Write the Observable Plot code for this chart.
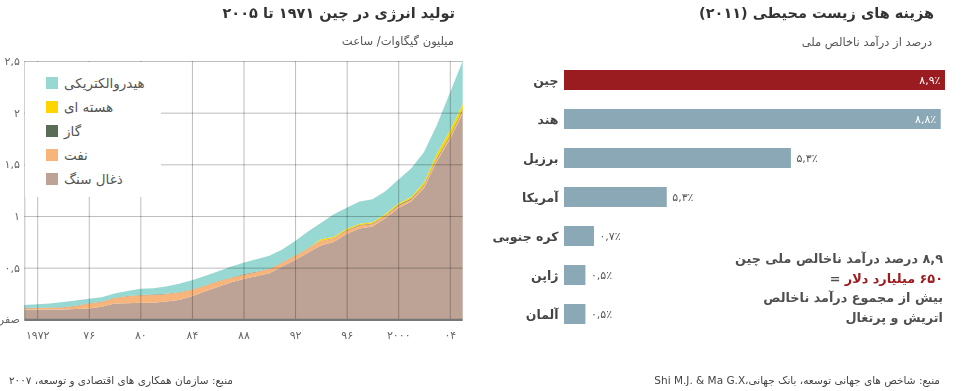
<!DOCTYPE html>
<html><head><meta charset="utf-8">
<script src="https://cdn.jsdelivr.net/npm/d3@7"></script>
<script src="https://cdn.jsdelivr.net/npm/@observablehq/plot@0.6"></script>
<style>
body{margin:0;background:#fff;font-family:"DejaVu Sans",sans-serif;}
#wrap{position:relative;width:976px;height:391px;overflow:hidden;background:#fff;}
.abs{position:absolute;}
.rtl{direction:rtl;text-align:right;white-space:nowrap;}
.title{font-size:14.5px;font-weight:bold;color:#333;line-height:22px;}
.sub{font-size:11.5px;color:#555;line-height:16px;}
.src{font-size:10.5px;color:#444;line-height:14px;}
#legend{left:25px;top:62px;width:136px;height:135px;background:#fff;padding-top:9px;box-sizing:border-box;}
.lrow{display:flex;align-items:center;height:24px;padding-left:21px;font-size:13.5px;color:#555;}
.sw{width:12px;height:12px;margin-right:6px;flex:none;}
#note{right:33px;top:249px;font-size:12.8px;line-height:19.5px;color:#505050;font-weight:bold;}
#note .line{direction:rtl;text-align:right;white-space:nowrap;}
#note .eq{direction:ltr;text-align:right;white-space:nowrap;}
#note .red{color:#9b1c20;font-weight:bold;}
</style></head><body><div id="wrap">
<div id="left" class="abs" style="left:0;top:0"></div>
<div id="right" class="abs" style="left:480px;top:0"></div>
<div class="abs rtl title" style="right:521px;top:2px">تولید انرژی در چین ۱۹۷۱ تا ۲۰۰۵</div>
<div class="abs rtl sub" style="right:522px;top:33px">میلیون گیگاوات/ ساعت</div>
<div class="abs rtl title" style="right:42px;top:2px">هزینه های زیست محیطی  (۲۰۱۱)</div>
<div class="abs rtl sub" style="right:44px;top:34px">درصد از درآمد ناخالص ملی</div>
<div id="legend" class="abs"></div>
<div id="note" class="abs">
<div class="line">۸,۹ درصد درآمد ناخالص ملی چین</div>
<div class="eq">= <span class="red" dir="rtl">۶۵۰ میلیارد دلار</span></div>
<div class="line">بیش از مجموع درآمد ناخالص</div>
<div class="line">اتریش و پرتغال</div>
</div>
<div class="abs rtl src" style="right:743px;top:373px">منبع: سازمان همکاری های اقتصادی و توسعه، ۲۰۰۷</div>
<div class="abs rtl src" style="right:36px;top:373px">منبع: شاخص های جهانی توسعه، بانک جهانی،Shi M.J. &amp; Ma G.X</div>
</div>
<script>
// ---- Left chart data (million GWh) ----
const years = [1971,1972,1973,1974,1975,1976,1977,1978,1979,1980,1981,1982,1983,1984,1985,1986,1987,1988,1989,1990,1991,1992,1993,1994,1995,1996,1997,1998,1999,2000,2001,2002,2003,2004,2005];
const coal = [0.093,0.095,0.095,0.094,0.100,0.105,0.122,0.152,0.156,0.160,0.161,0.172,0.187,0.222,0.268,0.312,0.355,0.390,0.417,0.445,0.510,0.575,0.643,0.715,0.748,0.826,0.880,0.897,0.978,1.075,1.140,1.270,1.530,1.740,1.995];
const oil = [0.013,0.014,0.016,0.020,0.029,0.047,0.046,0.053,0.066,0.072,0.075,0.073,0.073,0.063,0.057,0.053,0.045,0.042,0.040,0.041,0.040,0.040,0.042,0.042,0.036,0.034,0.028,0.025,0.022,0.025,0.020,0.025,0.025,0.025,0.025];
const gas = [0.003,0.003,0.003,0.003,0.003,0.003,0.003,0.003,0.003,0.003,0.003,0.003,0.003,0.003,0.003,0.003,0.003,0.003,0.003,0.003,0.003,0.003,0.003,0.004,0.004,0.004,0.004,0.005,0.005,0.006,0.006,0.007,0.008,0.009,0.012];
const nuclear = [0,0,0,0,0,0,0,0,0,0,0,0,0,0,0,0,0,0,0,0,0,0,0,0.013,0.012,0.013,0.013,0.013,0.014,0.016,0.017,0.024,0.042,0.050,0.052];
const hydro = [0.030,0.033,0.039,0.051,0.051,0.043,0.043,0.042,0.050,0.061,0.061,0.070,0.082,0.090,0.090,0.094,0.105,0.112,0.122,0.126,0.122,0.139,0.162,0.158,0.217,0.203,0.215,0.223,0.221,0.228,0.277,0.294,0.275,0.366,0.416];
const sourceNames = ["ذغال سنگ","نفت","گاز","هسته ای","هیدروالکتریکی"];
const sourceColors = ["#bda395","#f7b47b","#5a6e57","#ffd500","#97d9d2"];
const yTicks = [0,0.5,1,1.5,2,2.5];
const yTickLabels = ["صفر","۰,۵","۱","۱,۵","۲","۲,۵"];
const xTicks = [1972,1976,1980,1984,1988,1992,1996,2000,2004];
const xTickLabels = ["۱۹۷۲","۷۶","۸۰","۸۴","۸۸","۹۲","۹۶","۲۰۰۰","۰۴"];

// ---- Right chart data ----
const countries = ["چین","هند","برزیل","آمریکا","کره جنوبی","ژاپن","آلمان"];
const costPct = [8.9,8.8,5.3,2.4,0.7,0.5,0.5];
const costLabels = ["۸,۹٪","۸,۸٪","۵,۳٪","۵,۳٪","۰,۷٪","۰,۵٪","۰,۵٪"];

const FONT = "DejaVu Sans";
const series = [coal, oil, gas, nuclear, hydro];
const energy = [];
series.forEach((s, i) => s.forEach((v, j) => energy.push({year: years[j], source: sourceNames[i], value: v})));

const left = Plot.plot({
  width: 480, height: 350,
  marginLeft: 24.3, marginRight: 17.3, marginTop: 61, marginBottom: 30.7,
  style: {fontFamily: FONT, background: "transparent"},
  x: {domain: [1971, 2005], label: null},
  y: {domain: [0, 2.5], label: null},
  color: {domain: sourceNames, range: sourceColors},
  marks: [
    Plot.areaY(energy, {x: "year", y: "value", fill: "source", order: sourceNames, curve: "linear"}),
    Plot.ruleX([1971, ...xTicks], {stroke: "#bdbdbd", strokeWidth: 1, mixBlendMode: "multiply"}),
    Plot.ruleY(yTicks.slice(1), {stroke: "#bdbdbd", strokeWidth: 1, mixBlendMode: "multiply"}),
    Plot.ruleY([0], {stroke: "#777", strokeWidth: 2.2}),
    Plot.axisY(yTicks, {label: null, tickSize: 0, tickPadding: 5, fontSize: 11, fill: "#666", tickFormat: d => yTickLabels[yTicks.indexOf(d)]}),
    Plot.axisX(xTicks, {label: null, tickSize: 0, tickPadding: 11, fontSize: 11, fill: "#666", tickFormat: d => xTickLabels[xTicks.indexOf(d)]})
  ]
});
document.getElementById("left").appendChild(left);

// legend (top to bottom: hydro ... coal)
const lg = document.getElementById("legend");
for (let i = sourceNames.length - 1; i >= 0; i--) {
  const row = document.createElement("div");
  row.className = "lrow";
  row.innerHTML = `<span class="sw" style="background:${sourceColors[i]}"></span><span>${sourceNames[i]}</span>`;
  lg.appendChild(row);
}

const bars = countries.map((c, i) => ({country: c, value: costPct[i], label: costLabels[i], color: i === 0 ? "#9b1c20" : "#8aa8b5", inside: costPct[i] > 8}));
const right = Plot.plot({
  width: 496, height: 350,
  marginLeft: 84, marginRight: 31, marginTop: 47.8, marginBottom: 5.2,
  style: {fontFamily: FONT, background: "transparent"},
  x: {domain: [0, 8.9], axis: null},
  y: {domain: countries, padding: 0.5, axis: null},
  marks: [
    Plot.barX(bars, {x: "value", y: "country", fill: "color"}),
    Plot.text(bars, {y: "country", text: "country", frameAnchor: "left", textAnchor: "end", dx: -6, fontWeight: "bold", fontSize: 12.5, fill: "#444"}),
    Plot.text(bars.filter(d => d.inside), {x: "value", y: "country", text: "label", textAnchor: "end", dx: -5, fill: "white", fontSize: 11}),
    Plot.text(bars.filter(d => !d.inside), {x: "value", y: "country", text: "label", textAnchor: "start", dx: 5, fill: "#555", fontSize: 11})
  ]
});
document.getElementById("right").appendChild(right);
</script>
</body></html>
